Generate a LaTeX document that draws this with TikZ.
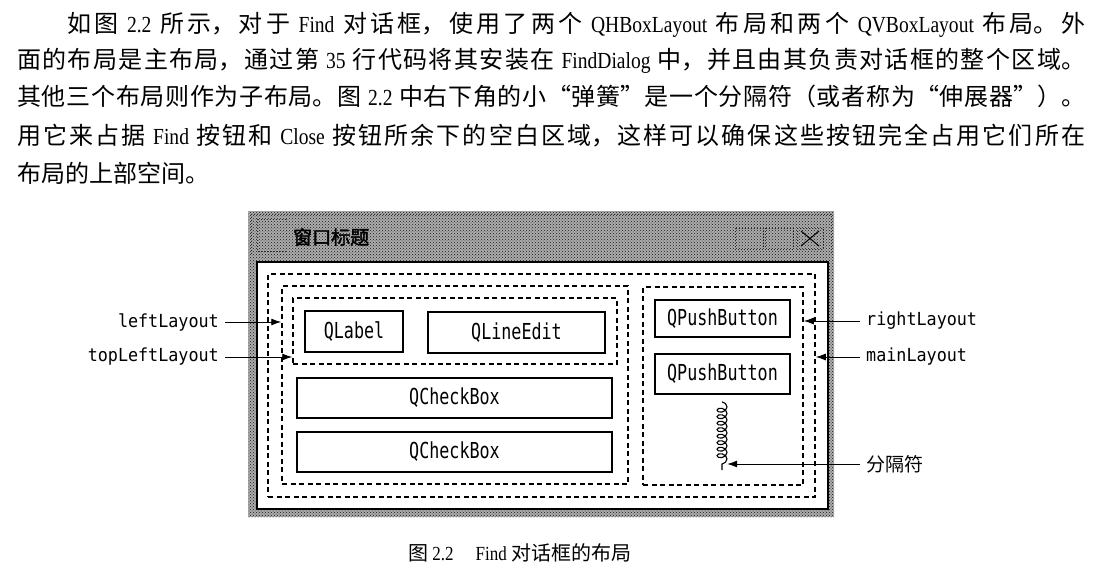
\documentclass[tikz,border=0pt]{standalone}
\usepackage{fontspec}
\newfontfamily\cjk{Noto Sans CJK SC}
\newfontfamily\cjkb{Noto Sans CJK SC}[FakeBold=2]
\newfontfamily\lat{Liberation Serif}[FakeStretch=0.85]
\newfontfamily\wmono{DejaVu Sans Mono}[FakeStretch=0.76]
\newfontfamily\lmono{DejaVu Sans Mono}[FakeStretch=0.93]
\usetikzlibrary{arrows.meta,decorations.pathmorphing,patterns}
\XeTeXlinebreaklocale "zh"
\XeTeXlinebreakskip=0pt plus 4pt minus 0.6pt
\newcommand\en[1]{{\lat\fontsize{23pt}{23pt}\selectfont #1}}
\newcommand\enc[1]{{\lat\fontsize{20pt}{20pt}\selectfont #1}}
\newcommand\gap{\hskip 6pt plus 3pt minus 2pt}
\newcommand\jline[1]{\leftskip=0pt\rightskip=0pt\parfillskip=0pt\parindent=0pt\hbadness=10000 #1\par}
\tikzset{
  pline/.style={inner sep=0pt, anchor=base west, font=\cjk\fontsize{24pt}{24pt}\selectfont},
  wbox/.style={draw, line width=1.4pt, inner sep=0pt, font=\wmono\fontsize{22pt}{22pt}\selectfont},
  lay/.style={draw, line width=1.5pt, dash pattern=on 5pt off 3.5pt, inner sep=0pt},
  lbl/.style={inner sep=0pt, font=\lmono\fontsize{18pt}{18pt}\selectfont},
  zlbl/.style={inner sep=0pt, font=\cjk\fontsize{19pt}{19pt}\selectfont},
  arr/.style={line width=0.9pt, -{Latex[length=10pt,width=7pt]}},
  tdot/.style={draw=black!85, line width=1pt, dotted},
}
\begin{document}
\begin{tikzpicture}[x=1pt,y=-1pt]
\useasboundingbox[fill=white] (0,0) rectangle (1098,586);
% paragraph
\node[pline, text width=1018pt] (l1) at (67,33) {\jline{如图\gap\en{2.2}\gap 所示，对于\gap\en{Find}\gap 对话框，使用了两个\gap\en{QHBoxLayout}\gap 布局和两个\gap\en{QVBoxLayout}\gap 布局。外}};
\node[pline, text width=1068pt] (l2) at (17,69) {\jline{面的布局是主布局，通过第\gap\en{35}\gap 行代码将其安装在\gap\en{FindDialog}\gap 中，并且由其负责对话框的整个区域。}};
\node[pline, text width=1068pt] (l3) at (17,106) {\jline{其他三个布局则作为子布局。图\gap\en{2.2}\gap 中右下角的小“弹簧”是一个分隔符（或者称为“伸展器”）。}};
\node[pline, text width=1068pt] (l4) at (17,144) {\jline{用它来占据\gap\en{Find}\gap 按钮和\gap\en{Close}\gap 按钮所余下的空白区域，这样可以确保这些按钮完全占用它们所在}};
\node[pline] (l5) at (17,182) {布局的上部空间。};
% window frame
\fill[gray!65] (248,211) rectangle (834,517);
\fill[pattern=crosshatch dots, pattern color=black!90] (248,211) rectangle (834,517);
\draw[tdot] (251,214) rectangle (831,254);
\draw[tdot] (257,219) rectangle (286,251);
\draw[tdot] (735,228) rectangle (763,249);
\draw[tdot] (765,228) rectangle (793,249);
\draw[tdot] (797,228) rectangle (823,249);
\draw[line width=1pt] (801,231) -- (819,246) (801,246) -- (819,231);
\node[inner sep=0pt, anchor=west, font=\cjkb\fontsize{19pt}{19pt}\selectfont] (title) at (293,237) {窗口标题};
\draw[fill=white, line width=1.6pt] (257,262) rectangle (828,509);
% layouts
\node[lay, minimum width=547pt, minimum height=223pt] (mainL) at (541.5,385.5) {};
\node[lay, minimum width=346pt, minimum height=198pt] (leftL) at (455,385) {};
\node[lay, minimum width=324pt, minimum height=66pt] (topL) at (455,331) {};
\node[lay, minimum width=160pt, minimum height=198pt] (rightL) at (723,386) {};
% widgets
\node[wbox, minimum width=98pt, minimum height=41pt] (qlabel) at (354,331.5) {QLabel};
\node[wbox, minimum width=177pt, minimum height=41pt] (qline) at (516.5,332.5) {QLineEdit};
\node[wbox, minimum width=315pt, minimum height=40pt] (cb1) at (454.5,398) {QCheckBox};
\node[wbox, minimum width=315pt, minimum height=40pt] (cb2) at (454.5,452) {QCheckBox};
\node[wbox, minimum width=135pt, minimum height=37pt] (pb1) at (722.5,318.5) {QPushButton};
\node[wbox, minimum width=135pt, minimum height=40pt] (pb2) at (722.5,374) {QPushButton};
% spacer
\node[inner sep=0pt, minimum width=10pt, minimum height=68pt] (spring) at (722,436) {};
\draw[line width=1.1pt, decorate, decoration={coil, aspect=0.7, segment length=6.5pt, amplitude=5pt}] (spring.north) -- (spring.south);
% labels
\node[lbl, anchor=east] (tLeft) at (219,322) {leftLayout};
\node[lbl, anchor=east] (tTopLeft) at (219,357) {topLeftLayout};
\node[lbl, anchor=west] (tRight) at (866,321) {rightLayout};
\node[lbl, anchor=west] (tMain) at (866,357) {mainLayout};
\node[zlbl, anchor=west] (tSep) at (866,464) {分隔符};
\draw[arr] ([xshift=6pt]tLeft.east) -- (tLeft.east -| leftL.west);
\draw[arr] ([xshift=6pt]tTopLeft.east) -- (tTopLeft.east -| topL.west);
\draw[arr] ([xshift=-6pt]tRight.west) -- (tRight.west -| rightL.east);
\draw[arr] ([xshift=-6pt]tMain.west) -- (tMain.west -| mainL.east);
\draw[arr] ([xshift=-6pt]tSep.west) -- (tSep.west -| spring.east);
% caption
\node[inner sep=0pt, anchor=base west, font=\cjk\fontsize{20pt}{20pt}\selectfont] (cap) at (408,560) {图\enc{ 2.2}\hspace{22pt}\enc{Find} 对话框的布局};
\end{tikzpicture}
\end{document}
